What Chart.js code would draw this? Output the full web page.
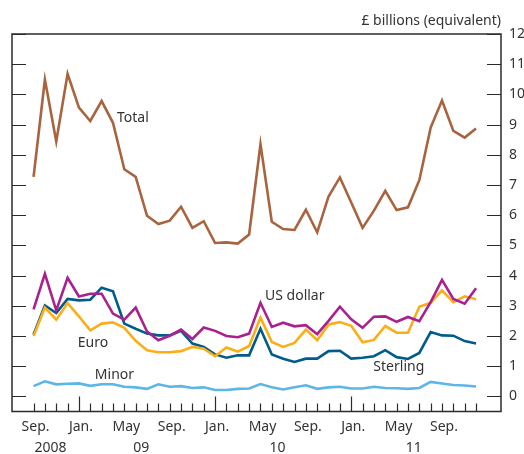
<!DOCTYPE html>
<html>
<head>
<meta charset="utf-8">
<script src="https://cdn.jsdelivr.net/npm/chart.js@4/dist/chart.umd.min.js"></script>
<style>
  html, body { margin: 0; padding: 0; background: #fff; }
  #wrap { width: 524px; height: 454px; }
</style>
</head>
<body>
<div id="wrap"><canvas id="chart" width="524" height="454"></canvas></div>
<script>
// Monthly, Sep. 2008 to Dec. 2011
const monthLabels = ['Sep.', '', '', '', 'Jan.', '', '', '', 'May', '', '', '', 'Sep.', '', '', '',
    'Jan.', '', '', '', 'May', '', '', '', 'Sep.', '', '', '', 'Jan.', '', '', '', 'May', '', '', '',
    'Sep.', '', '', ''];
const yearLabels = ['2008', '09', '10', '11'];
const yearStart = [0, 4, 16, 28];   // month index where each year begins
const yearEnd = [3, 15, 27, 39];

const total = [7.27, 10.49, 8.44, 10.68, 9.56, 9.12, 9.78, 9.06, 7.52, 7.27,
    5.98, 5.71, 5.82, 6.28, 5.58, 5.80, 5.08, 5.10, 5.06, 5.36,
    8.35, 5.78, 5.54, 5.51, 6.18, 5.43, 6.62, 7.25, 6.42, 5.58,
    6.15, 6.81, 6.17, 6.26, 7.16, 8.90, 9.80, 8.79, 8.57, 8.87];
const usDollar = [2.88, 4.06, 2.85, 3.93, 3.31, 3.40, 3.40, 2.74, 2.54, 2.94,
    2.15, 1.86, 2.01, 2.21, 1.90, 2.28, 2.17, 2.00, 1.96, 2.08,
    3.10, 2.30, 2.44, 2.32, 2.36, 2.06, 2.50, 2.97, 2.55, 2.27,
    2.64, 2.65, 2.47, 2.63, 2.49, 3.12, 3.86, 3.23, 3.07, 3.58];
const euro = [2.00, 2.94, 2.54, 3.09, 2.65, 2.19, 2.41, 2.45, 2.27, 1.84,
    1.53, 1.46, 1.46, 1.50, 1.64, 1.58, 1.33, 1.62, 1.48, 1.67,
    2.61, 1.80, 1.64, 1.77, 2.21, 1.86, 2.38, 2.46, 2.34, 1.79,
    1.87, 2.33, 2.11, 2.11, 2.97, 3.10, 3.51, 3.12, 3.31, 3.22];
const sterling = [2.05, 3.01, 2.76, 3.23, 3.18, 3.20, 3.60, 3.48, 2.41, 2.24,
    2.08, 2.02, 2.02, 2.17, 1.75, 1.64, 1.39, 1.28, 1.36, 1.36,
    2.24, 1.39, 1.25, 1.14, 1.25, 1.25, 1.50, 1.51, 1.25, 1.28,
    1.33, 1.53, 1.30, 1.24, 1.44, 2.13, 2.02, 2.01, 1.83, 1.75];
const minor = [0.34, 0.50, 0.40, 0.42, 0.43, 0.35, 0.40, 0.40, 0.32, 0.30,
    0.25, 0.40, 0.32, 0.34, 0.28, 0.30, 0.21, 0.21, 0.25, 0.26,
    0.41, 0.30, 0.23, 0.30, 0.37, 0.25, 0.30, 0.32, 0.26, 0.26,
    0.32, 0.28, 0.27, 0.25, 0.28, 0.48, 0.43, 0.38, 0.36, 0.33];

const yTicks = [0, 1, 2, 3, 4, 5, 6, 7, 8, 9, 10, 11, 12];

const FONT = '"Noto Sans", "Open Sans", sans-serif';
const TEXT = '#333333';
const AXIS = '#2b2b2b';

const points = (arr) => arr.map((v, i) => ({ x: i, y: v }));

// series name labels, anchored in data space (month index, value)
const seriesLabels = [
    { text: 'Total', x: 7.35, y: 9.22 },
    { text: 'US dollar', x: 20.4, y: 3.34 },
    { text: 'Euro', x: 3.9, y: 1.77 },
    { text: 'Minor', x: 5.4, y: 0.70 },
    { text: 'Sterling', x: 29.95, y: 0.97 }
];

const framePlugin = {
    id: 'frame',
    afterDraw(chart) {
        const ctx = chart.ctx;
        const area = chart.chartArea;
        const xs = chart.scales.x;
        const ys = chart.scales.y;
        ctx.save();
        ctx.strokeStyle = AXIS;
        ctx.lineWidth = 1.5;
        ctx.strokeRect(area.left, area.top, area.right - area.left, area.bottom - area.top);

        // y ticks on both sides, pointing inwards
        ctx.lineWidth = 1.2;
        yTicks.forEach(v => {
            const y = Math.round(ys.getPixelForValue(v)) + 0.5;
            ctx.beginPath();
            ctx.moveTo(area.left, y);
            ctx.lineTo(area.left + 14, y);
            ctx.moveTo(area.right - 14, y);
            ctx.lineTo(area.right, y);
            ctx.stroke();
        });

        // monthly ticks along the bottom, longer at year starts
        monthLabels.forEach((lab, i) => {
            const x = Math.round(xs.getPixelForValue(i)) + 0.5;
            const len = (yearStart.includes(i) && i > 0) ? 15 : 8;
            ctx.beginPath();
            ctx.moveTo(x, area.bottom);
            ctx.lineTo(x, area.bottom - len);
            ctx.stroke();
        });

        ctx.fillStyle = TEXT;
        ctx.font = '14px ' + FONT;
        ctx.textAlign = 'center';
        ctx.textBaseline = 'middle';
        monthLabels.forEach((lab, i) => {
            if (lab) ctx.fillText(lab, xs.getPixelForValue(i) + 2, area.bottom + 16);
        });
        yearLabels.forEach((lab, k) => {
            const mid = (yearStart[k] + yearEnd[k]) / 2;
            ctx.fillText(lab, xs.getPixelForValue(mid), area.bottom + 37);
        });

        // unit label
        ctx.textAlign = 'right';
        ctx.fillText('£ billions (equivalent)', area.right, area.top - 13);

        // series labels
        ctx.textAlign = 'left';
        seriesLabels.forEach(s => {
            ctx.fillText(s.text, xs.getPixelForValue(s.x), ys.getPixelForValue(s.y));
        });
        ctx.restore();
    }
};

const line = (label, data, color) => ({
    label: label,
    data: points(data),
    borderColor: color,
    backgroundColor: color,
    borderWidth: 2.6,
    pointRadius: 0,
    tension: 0,
    fill: false
});

new Chart(document.getElementById('chart').getContext('2d'), {
    type: 'line',
    data: {
        datasets: [
            line('Total', total, '#a8633f'),
            line('US dollar', usDollar, '#a8218e'),
            line('Euro', euro, '#fbae17'),
            line('Sterling', sterling, '#005c8b'),
            line('Minor', minor, '#5cb6e6')
        ]
    },
    options: {
        responsive: false,
        animation: false,
        layout: {
            padding: { left: 12, right: 0, top: 34, bottom: 42.5 }
        },
        plugins: {
            legend: { display: false },
            tooltip: { enabled: false }
        },
        scales: {
            x: {
                type: 'linear',
                display: false,
                min: -1.9,
                max: 41.2
            },
            y: {
                position: 'right',
                min: -0.5,
                max: 12,
                afterFit: (scale) => { scale.width = 23; },
                afterBuildTicks: (scale) => {
                    scale.ticks = yTicks.map(v => ({ value: v }));
                },
                grid: { display: false, drawTicks: false },
                border: { display: false },
                ticks: {
                    padding: 8,
                    color: TEXT,
                    font: { family: FONT, size: 14 },
                    crossAlign: 'near'
                }
            }
        }
    },
    plugins: [framePlugin]
});
</script>
</body>
</html>
